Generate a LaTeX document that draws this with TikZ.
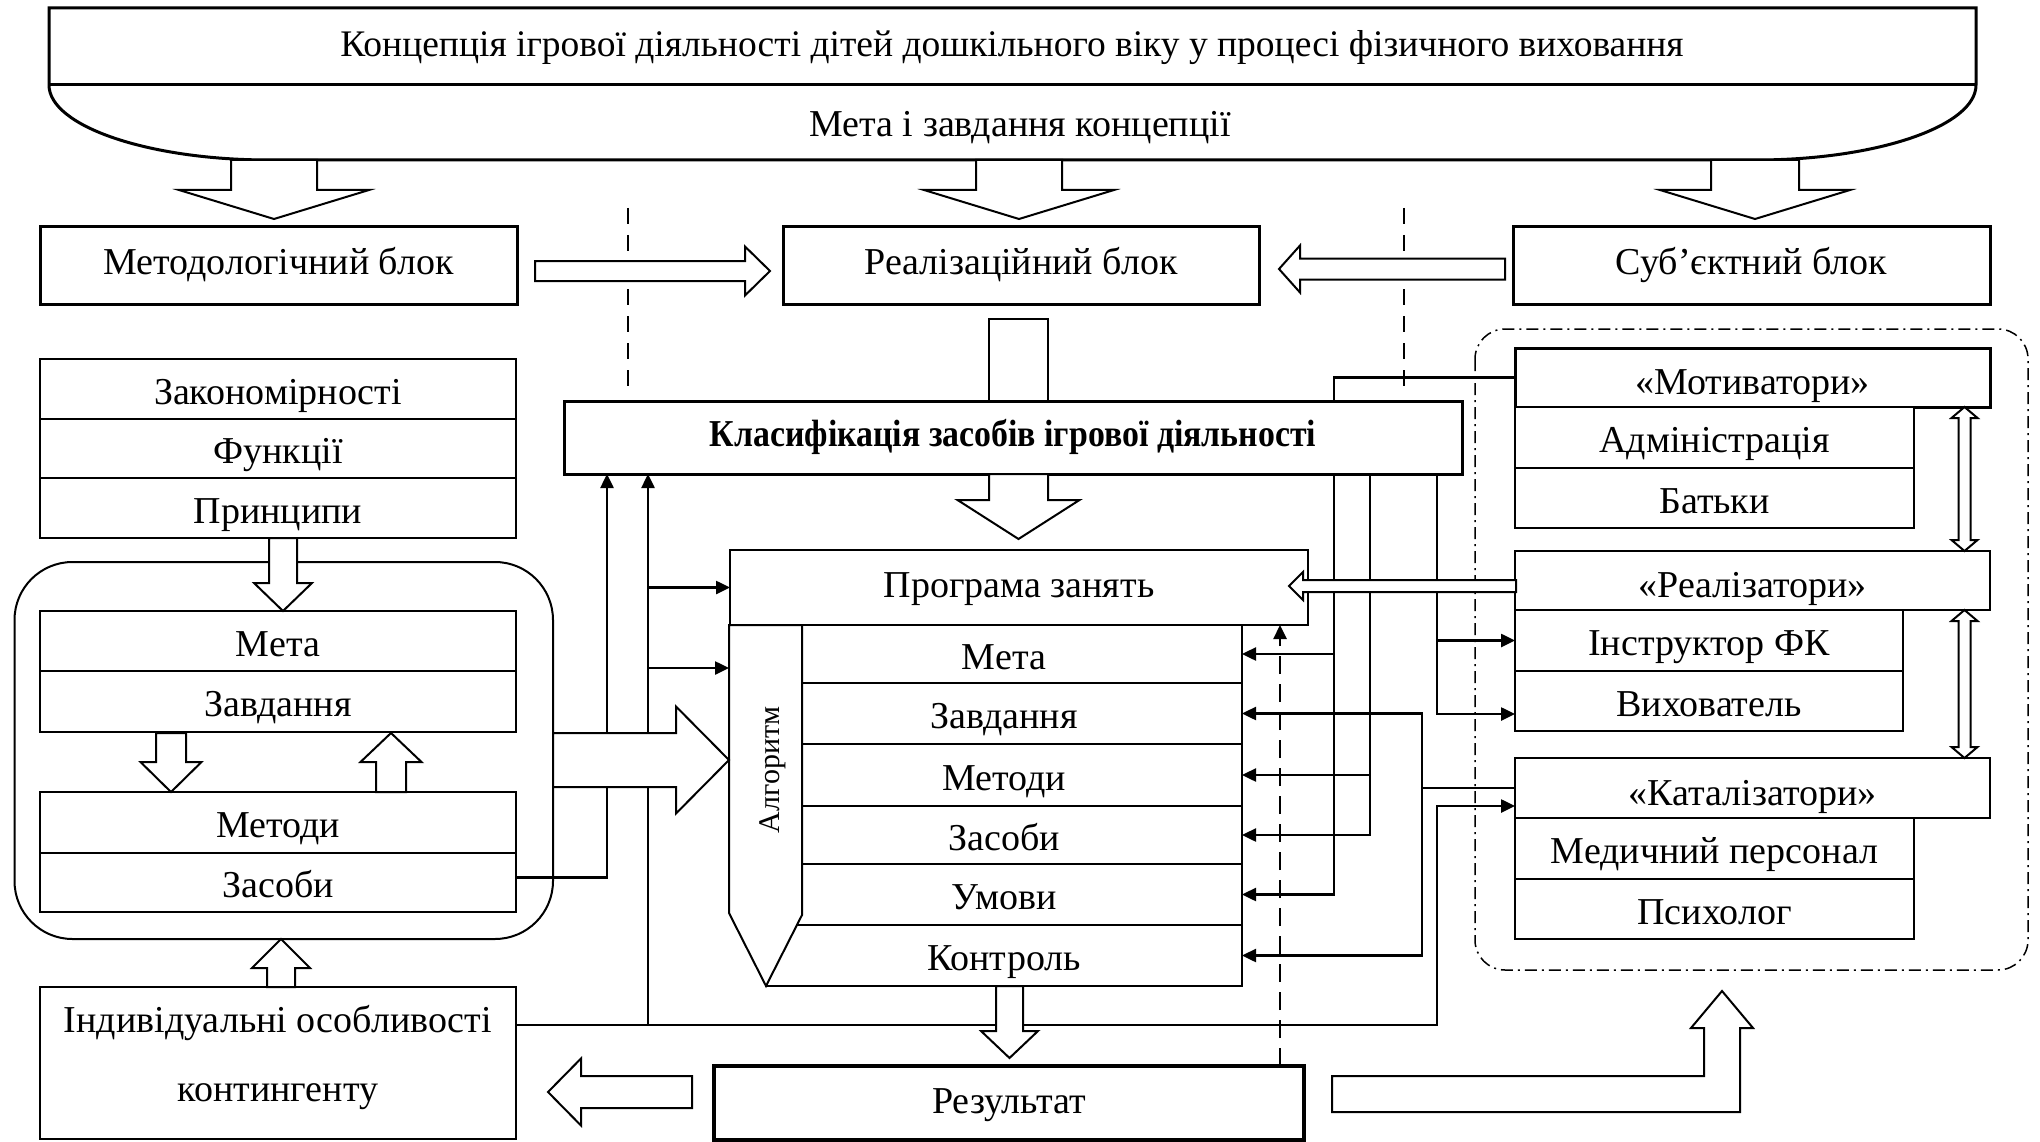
\documentclass[tikz,border=0pt]{standalone}
\usepackage{fontspec}
\setmainfont{Liberation Serif}
\usetikzlibrary{arrows.meta,calc}
\newcommand\vblock[6]{% cx, shaft half, head half, y start, y head base, y tip
  \draw[harr] (#1-#2,#4) -- (#1+#2,#4) -- (#1+#2,#5) -- (#1+#3,#5) -- (#1,#6) -- (#1-#3,#5) -- (#1-#2,#5) -- cycle;}
\newcommand\hblock[6]{% cy, shaft half, head half, x start, x head base, x tip
  \draw[harr] (#4,#1-#2) -- (#5,#1-#2) -- (#5,#1-#3) -- (#6,#1) -- (#5,#1+#3) -- (#5,#1+#2) -- (#4,#1+#2) -- cycle;}
\newcommand\dblock[3]{% cx, y top, y bottom
  \draw[harr] (#1,#2) -- (#1+13,#2+11) -- (#1+6,#2+11) -- (#1+6,#3-11) -- (#1+13,#3-11) -- (#1,#3) -- (#1-13,#3-11) -- (#1-6,#3-11) -- (#1-6,#2+11) -- (#1-13,#2+11) -- cycle;}
\begin{document}
\begin{tikzpicture}[x=1pt,y=-1pt,
  every node/.style={font=\fontsize{38}{42}\selectfont, inner sep=0pt, outer sep=0pt, text height=30pt, text depth=0pt},
  bx/.style={draw, line width=1.3pt, anchor=north west, fill=white},
  mbx/.style={bx, line width=2.2pt},
  tbx/.style={bx, line width=3pt},
  sz/.style 2 args={minimum width=#1pt, minimum height=#2pt},
  conn/.style={line width=2.5pt},
  tip/.style={-{Triangle[length=14pt,width=13pt]}},
  harr/.style={draw, line width=2pt, fill=white, line join=miter},
]
\useasboundingbox (0,0) rectangle (2040,1142);

% banner
\draw[line width=3pt, fill=white] (49,8) -- (1976,8) -- (1976,85) .. controls (1976,126) and (1877,160) .. (1756,160) -- (269,160) .. controls (148,160) and (49,126) .. (49,85) -- cycle;
\draw[line width=3pt] (49,85) -- (1976,85);
\node[text height=25pt, font=\fontsize{37.5}{42}\selectfont] (title) at (1012,44) {Концепція ігрової діяльності дітей дошкільного віку у процесі фізичного виховання};
\node[text height=25pt] (goal) at (1020,124) {Мета і завдання концепції};

% separators
\draw[line width=2.5pt, dash pattern=on 16pt off 11pt] (628,208) -- (628,392);
\draw[line width=2.5pt, dash pattern=on 16pt off 11pt] (1404,208) -- (1404,391);

% frames
\draw[line width=2pt, rounded corners=58pt] (14.5,562) rectangle (553,939);
\draw[line width=1.5pt, rounded corners=30pt, dash pattern=on 12pt off 5pt on 2pt off 5pt] (1475,329) rectangle (2028,970);

% nodes
\node[tbx, sz={477}{77}, text height=18pt] (metod) at (40,227) {Методологічний блок};
\node[tbx, sz={476}{77}, text height=18pt] (real) at (783,227) {Реалізаційний блок};
\node[tbx, sz={477}{77}, text height=18pt] (subj) at (1513,227) {Суб’єктний блок};

\node[bx, sz={476}{60}] (zak) at (40,359) {Закономірності};
\node[bx, sz={476}{59}] (fun) at (40,419) {Функції};
\node[bx, sz={476}{60}] (prin) at (40,478) {Принципи};

\node[bx, sz={476}{60}] (meta1) at (40,611) {Мета};
\node[bx, sz={476}{61}] (zav1) at (40,671) {Завдання};
\node[bx, sz={476}{61}] (met1) at (40,792) {Методи};
\node[bx, sz={476}{59}] (zas1) at (40,853) {Засоби};

\node[bx, sz={476}{152}, align=center, line width=1.5pt, text height=, text depth=20pt] (ind) at (40,987) {Індивідуальні особливості\\[27pt]контингенту};

\node[tbx, sz={898}{73}, text height=18pt, font=\fontsize{38}{42}\selectfont\bfseries] (klas) at (564,401) {\scalebox{0.89}[1]{Класифікація засобів ігрової діяльності}};
\node[mbx, sz={578}{75}, text height=20pt] (prog) at (730,550) {Програма занять};

\node[bx, sz={476}{58}] (meta2) at (766,625) {Мета};
\node[bx, sz={476}{61}] (zav2) at (766,683) {Завдання};
\node[bx, sz={476}{62}] (met2) at (766,744) {Методи};
\node[bx, sz={476}{58}] (zas2) at (766,806) {Засоби};
\node[bx, sz={476}{61}] (umo2) at (766,864) {Умови};
\node[bx, sz={476}{61}] (kon2) at (766,925) {Контроль};

\node[tbx, line width=3.5pt, sz={590}{74}, text height=20pt] (res) at (714,1066) {Результат};

\node[tbx, sz={475}{59}, text height=34pt] (motiv) at (1515,348) {«Мотиватори»};
\node[bx, sz={399}{61}] (adm) at (1515,407) {Адміністрація};
\node[bx, sz={399}{60}] (bat) at (1515,468) {Батьки};
\node[mbx, sz={475}{59}, text height=34pt] (realiz) at (1515,551) {«Реалізатори»};
\node[bx, sz={388}{61}] (instr) at (1515,610) {Інструктор ФК};
\node[bx, sz={388}{60}] (vyh) at (1515,671) {Вихователь};
\node[mbx, sz={475}{60}, text height=34pt] (katal) at (1515,758) {«Каталізатори»};
\node[bx, sz={399}{61}] (med) at (1515,818) {Медичний персонал};
\node[bx, sz={399}{60}] (psy) at (1515,879) {Психолог};

% algorithm pentagon
\draw[line width=2pt, fill=white] (729,625) -- (802,625) -- (802,915) -- (766,986) -- (729,913) -- cycle;
\node[rotate=90, font=\fontsize{30}{34}\selectfont, text height=20pt] (alg) at (769,770) {Алгоритм};

% bus coordinates
\coordinate (busA) at ([xshift=43pt]klas.south west);
\coordinate (busB) at ([xshift=84pt]klas.south west);
\coordinate (busC) at ([xshift=770pt]klas.south west);
\coordinate (busD) at ([xshift=806pt]klas.south west);
\coordinate (busF) at ([xshift=873pt]klas.south west);
\coordinate (busE) at ([xshift=-93pt]katal.west);
\coordinate (algL) at (729,668);

% connectors
\draw[conn,tip] ([yshift=5pt]zas1.east) -| (busA);
\draw[conn,tip] ([yshift=38pt]ind.east) -| (busB);
\draw[conn,tip] ([yshift=38pt]ind.east) -| ([xshift=-78pt,yshift=-18pt]katal.west) -- ([yshift=-18pt]katal.west);
\draw[conn,tip] (busB |- prog.west) -- (prog.west);
\draw[conn,tip] (busB |- algL) -- (algL);
\draw[conn] (motiv.west) -| ([xshift=770pt]klas.north west);
\draw[conn,tip] (busC) |- (umo2.east);
\draw[conn,tip] (busC |- meta2.east) -- (meta2.east);
\draw[conn,tip] (busD) |- (zas2.east);
\draw[conn,tip] (busD |- met2.east) -- (met2.east);
\draw[conn,tip] (busF) |- ([yshift=-13pt]vyh.west);
\draw[conn,tip] (busF |- instr.west) -- (instr.west);
\draw[conn,tip] (katal.west) -| (busE |- zav2.east) -- (zav2.east);
\draw[conn,tip] (busE) |- (kon2.east);
\draw[conn,tip, dash pattern=on 18pt off 10pt] ([xshift=-24pt]res.north east) -- ([xshift=-28pt]prog.south east);

% block arrows
\vblock{274}{43}{95}{160}{190}{219}
\vblock{1019}{43}{95}{160}{190}{219}
\vblock{1755}{44}{95}{160}{190}{219}
\hblock{271}{10}{24.5}{535}{745}{770}
\hblock{269}{10.5}{23.5}{1505}{1300}{1279}
\draw[harr] (989,319) rectangle (1048,401);
\vblock{1018.5}{29.5}{61}{474}{500}{539}
\vblock{283}{14}{29}{538}{583}{611}
\vblock{171}{15}{30.5}{733}{762}{792}
\vblock{391}{15}{30.5}{792}{762}{733}
\vblock{281}{14}{29}{987}{968}{939}
\hblock{760}{27}{53.5}{553}{676}{729}
\hblock{1092}{16}{33.5}{692}{581}{548}
\vblock{1009.5}{13.5}{28.5}{986}{1031}{1058}
\hblock{586}{6}{14}{1516}{1303}{1289}
\draw[harr] (1332,1076) -- (1704,1076) -- (1704,1028) -- (1691,1028) -- (1722,991) -- (1753,1028) -- (1740,1028) -- (1740,1112) -- (1332,1112) -- cycle;
\dblock{1964.5}{407}{551}
\dblock{1964.5}{610}{758}
\end{tikzpicture}
\end{document}
